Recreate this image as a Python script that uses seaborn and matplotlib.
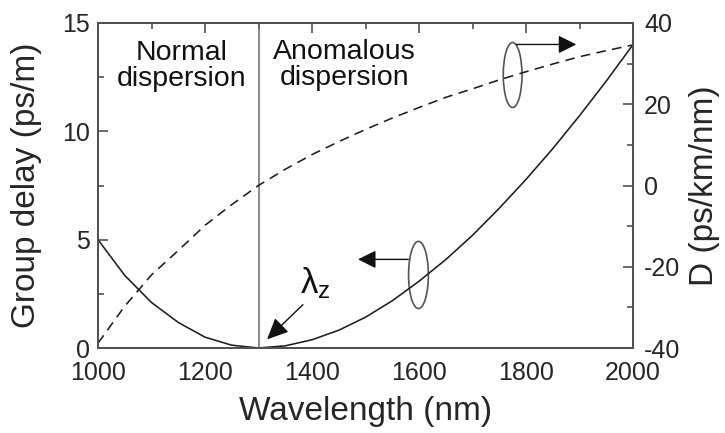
import matplotlib
matplotlib.use("Agg")
import matplotlib.pyplot as plt
from matplotlib.patches import Ellipse
import seaborn as sns
import pandas as pd

# ---- data ----
wavelength = [1000, 1050, 1100, 1150, 1200, 1250, 1300, 1350, 1400, 1450, 1500,
              1550, 1600, 1650, 1700, 1750, 1800, 1850, 1900, 1950, 2000]
group_delay = [5.0, 3.35, 2.1, 1.18, 0.5, 0.13, 0.0, 0.1, 0.38, 0.82, 1.42,
               2.18, 3.08, 4.08, 5.2, 6.45, 7.78, 9.2, 10.72, 12.32, 14.0]
dispersion = [-38.8, -29.7, -22.0, -16.0, -9.8, -4.7, 0.0, 4.0, 7.6, 10.8, 13.8,
              16.6, 19.2, 21.7, 23.8, 26.0, 28.0, 29.9, 31.7, 33.2, 34.6]
zero_dispersion_wl = 1300
x_ticks = [1000, 1200, 1400, 1600, 1800, 2000]
left_ticks = [0, 5, 10, 15]
right_ticks = [-40, -20, 0, 20, 40]

df = pd.DataFrame({"wavelength": wavelength, "gd": group_delay, "D": dispersion})

sns.set_style("white")
plt.rcParams["font.family"] = ["Liberation Sans", "DejaVu Sans"]
plt.rcParams["mathtext.fontset"] = "custom"
plt.rcParams["mathtext.rm"] = "Liberation Sans"
plt.rcParams["mathtext.it"] = "Liberation Sans"
plt.rcParams["axes.unicode_minus"] = False

fig = plt.figure(figsize=(7.25, 4.33), dpi=100)
ax = fig.add_axes([98 / 725, 1 - 348 / 433, (633 - 98) / 725, (348 - 23) / 433])
ax2 = ax.twinx()

line_col = "#1e1e1e"
spine_col = "#505050"

sns.lineplot(data=df, x="wavelength", y="gd", ax=ax, color=line_col, lw=1.15)
sns.lineplot(data=df, x="wavelength", y="D", ax=ax2, color=line_col, lw=1.15)
ax2.lines[0].set_dashes((6, 4))

ax.set_xlim(1000, 2000)
ax.set_ylim(0, 15)
ax2.set_ylim(-40, 40)
ax.set_xticks(x_ticks)
ax.set_xticks([v + 100 for v in x_ticks[:-1]], minor=True)
ax.set_yticks(left_ticks)
ax.set_yticks([2.5, 7.5, 12.5], minor=True)
ax2.set_yticks(right_ticks)
ax2.set_yticks([-30, -10, 10, 30], minor=True)

for a in (ax, ax2):
    for s in a.spines.values():
        s.set_color(spine_col)
        s.set_linewidth(1.3)

ax.tick_params(axis="x", which="major", direction="in", length=7, width=1.2,
               color=spine_col, labelsize=18, pad=9, top=True)
ax.tick_params(axis="x", which="minor", direction="in", length=4, width=1.2,
               color=spine_col, top=True)
ax.tick_params(axis="y", which="major", direction="in", length=7, width=1.2,
               color=spine_col, labelsize=18, pad=6)
ax.tick_params(axis="y", which="minor", direction="in", length=4, width=1.2,
               color=spine_col)
ax2.tick_params(axis="y", which="major", direction="in", length=7, width=1.2,
                color=spine_col, labelsize=18, pad=8)
ax2.tick_params(axis="y", which="minor", direction="in", length=4, width=1.2,
                color=spine_col)

ax.set_xlabel("Wavelength (nm)", fontsize=24, labelpad=8)
ax.set_ylabel("Group delay (ps/m)", fontsize=24, labelpad=14)
ax2.set_ylabel("D (ps/km/nm)", fontsize=24, labelpad=6)

# zero-dispersion wavelength divider
ax.axvline(zero_dispersion_wl, color="#6a6a6a", lw=1.1)

ax.text(1156, 13.0, "Normal\ndispersion", ha="center", va="center",
        fontsize=20.5, linespacing=1.0, color="#111111")
ax.text(1460, 13.05, "Anomalous\ndispersion", ha="center", va="center",
        fontsize=20.5, linespacing=1.0, color="#111111")

ax.text(1406, 3.0, r"$\mathrm{\lambda_z}$", ha="center", va="center",
        fontsize=25, color="#111111")
ax.annotate("", xy=(1316, 0.4), xytext=(1383, 2.0),
            arrowprops=dict(arrowstyle="-|>,head_length=1.3,head_width=0.6",
                            color="#111111", lw=1.0, shrinkA=0, shrinkB=0))

# ellipse + arrow for the group-delay curve (left axis)
ax.add_patch(Ellipse((1599, 3.37), 37, 3.1, fill=False, ec="#555555", lw=1.2))
ax.annotate("", xy=(1486, 4.09), xytext=(1580, 4.09),
            arrowprops=dict(arrowstyle="-|>,head_length=1.1,head_width=0.55",
                            color="#111111", lw=1.0, shrinkA=0, shrinkB=0))

# ellipse + arrow for the dispersion curve (right axis)
ax.add_patch(Ellipse((1775, 12.6), 35, 3.0, fill=False, ec="#555555", lw=1.2))
ax.annotate("", xy=(1894, 14.01), xytext=(1782, 14.01),
            arrowprops=dict(arrowstyle="-|>,head_length=1.1,head_width=0.55",
                            color="#111111", lw=1.0, shrinkA=0, shrinkB=0))

fig.savefig("out.png", dpi=100)
